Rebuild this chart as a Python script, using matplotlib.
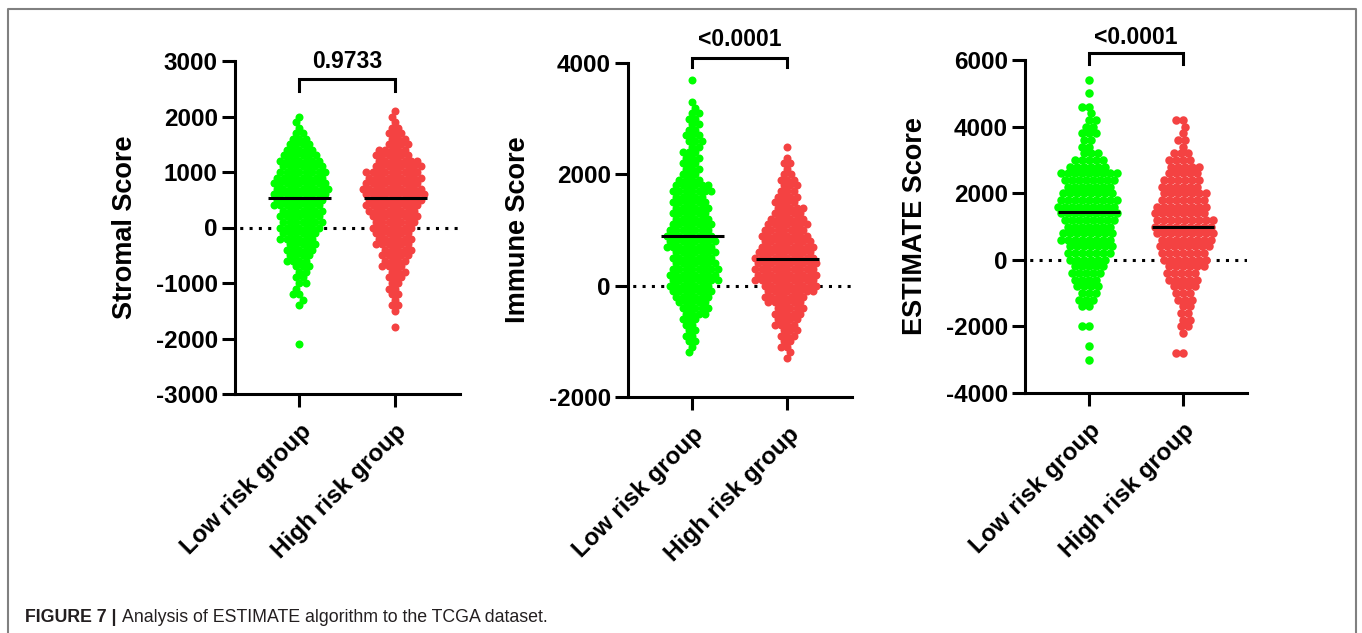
import numpy as np
import matplotlib
matplotlib.use("Agg")
import matplotlib.pyplot as plt
from matplotlib.lines import Line2D
from matplotlib.transforms import blended_transform_factory

plt.rcParams['font.family'] = ['Liberation Sans', 'DejaVu Sans']
plt.rcParams['font.weight'] = 'bold'

# ---------------------------------------------------------------- data
groups = ["Low risk group", "High risk group"]
score_names = ["Stromal Score", "Immune Score", "ESTIMATE Score"]
p_labels = ["0.9733", "<0.0001", "<0.0001"]

# score levels and the number of samples at each level
stromal_levels = np.arange(2100, -2101, -100)
stromal_low = [0, 1, 1, 1, 2, 3, 4, 5, 6, 7, 7, 8, 8, 9, 9, 9, 8, 8, 7, 7, 7, 7,
               6, 6, 5, 5, 4, 4, 3, 2, 2, 2, 1, 2, 1, 1, 0, 0, 0, 0, 0, 0, 1]
stromal_high = [1, 1, 1, 2, 3, 3, 4, 5, 6, 7, 8, 9, 9, 9, 10, 10, 9, 9, 8, 8, 7, 7,
                6, 6, 6, 5, 5, 4, 4, 3, 3, 2, 2, 2, 1, 2, 1, 0, 0, 1, 0, 0, 0]

immune_levels = np.arange(3700, -1301, -100)
immune_low = [1, 0, 0, 0, 1, 1, 2, 2, 2, 2, 3, 3, 2, 3, 3, 3, 3, 3, 4, 6, 7, 5, 6, 6, 6,
              6, 7, 7, 8, 8, 8, 7, 7, 7, 8, 8, 8, 7, 7, 6, 5, 5, 4, 3, 2, 2, 2, 2, 1, 1, 0]
immune_high = [0, 0, 0, 0, 0, 0, 0, 0, 0, 0, 0, 0, 1, 0, 1, 2, 1, 2, 3, 3, 3, 4, 4, 5, 5,
               6, 7, 7, 8, 8, 9, 9, 10, 10, 10, 10, 10, 9, 8, 7, 6, 5, 5, 4, 4, 3, 3, 2, 2, 1, 1]

estimate_levels = np.arange(5400, -3001, -200)
estimate_low = [1, 0, 1, 0, 2, 1, 2, 2, 3, 2,
                2, 3, 5, 6, 9, 8, 7, 8, 9, 9,
                9, 8, 7, 8, 8, 7, 7, 6, 5, 5,
                4, 4, 3, 3, 2, 0, 0, 2, 0, 0,
                1, 0, 1]
estimate_high = [0, 0, 0, 0, 0, 0, 2, 1, 1, 2,
                 1, 3, 4, 5, 5, 6, 6, 7, 7, 8,
                 8, 9, 9, 9, 8, 8, 7, 7, 6, 5,
                 5, 4, 3, 3, 2, 2, 2, 2, 1, 0,
                 0, 2, 0]

medians = [[530, 535], [897, 484], [1450, 1000]]

y_limits = [(-3000, 3000), (-2000, 4000), (-4000, 6000)]
y_ticks = [[-3000, -2000, -1000, 0, 1000, 2000, 3000],
           [-2000, 0, 2000, 4000],
           [-4000, -2000, 0, 2000, 4000, 6000]]

panels = [
    (stromal_levels, stromal_low, stromal_high),
    (immune_levels, immune_low, immune_high),
    (estimate_levels, estimate_low, estimate_high),
]

colors = ["#00FF00", "#F44242"]

# ---------------------------------------------------------------- layout
W, H = 1362, 633
fig = plt.figure(figsize=(W / 100, H / 100), dpi=100)

# axes boxes in pixels: left, top, right, bottom
boxes = [(235, 61, 460, 394), (628, 63, 852, 397), (1025, 60, 1247, 393)]
# bracket: leg bottom, bar, text centre (axes fraction)
brackets = [(0.910, 0.946, 1.0), (0.988, 1.015, 1.069), (0.988, 1.021, 1.069)]
XLIM = (-0.675, 1.68)
DOT_PX = [8.0, 8.0, 8.5]
MIN_DIST = [6.4, 6.4, 7.0]


def swarm_offsets(values, px_per_y, dmin):
    """Horizontal pixel offsets so that dots sit side by side."""
    order = np.argsort(-values, kind="stable")
    ypx = values * px_per_y
    xs = np.zeros(len(values))
    placed_x, placed_y = [], []
    for k, i in enumerate(order):
        y = ypx[i]
        spans = []
        for px, py in zip(placed_x, placed_y):
            dy = abs(py - y)
            if dy < dmin:
                half = np.sqrt(dmin ** 2 - dy ** 2)
                spans.append((px - half, px + half))
        cands = [0.0] + [a for a, b in spans] + [b for a, b in spans]
        side = 1 if k % 2 == 0 else -1
        cands.sort(key=lambda c: (round(abs(c), 6), -side * c))
        for c in cands:
            if all(not (a + 1e-9 < c < b - 1e-9) for a, b in spans):
                xs[i] = c
                break
        placed_x.append(xs[i])
        placed_y.append(y)
    return xs


LW = 2.2
for p, (levels, low, high) in enumerate(panels):
    l, t, r, b = boxes[p]
    ax = fig.add_axes([l / W, (H - b) / H, (r - l) / W, (b - t) / H])
    ax.set_xlim(*XLIM)
    ax.set_ylim(*y_limits[p])
    px_x = (r - l) / (XLIM[1] - XLIM[0])
    px_y = (b - t) / (y_limits[p][1] - y_limits[p][0])

    for g, counts in enumerate([low, high]):
        vals = np.repeat(levels, counts).astype(float)
        off = swarm_offsets(vals, px_y, MIN_DIST[p])
        ax.scatter(g + off / px_x, vals, s=(DOT_PX[p] * 0.72) ** 2, color=colors[g],
                   linewidths=0, zorder=2)
        ax.hlines(medians[p][g], g - 0.33, g + 0.33, color="black", lw=LW, zorder=3)

    ax.axhline(0, color="black", lw=LW, ls=(1.5, (1, 2.05)), zorder=1)

    for side in ("top", "right"):
        ax.spines[side].set_visible(False)
    for side in ("left", "bottom"):
        ax.spines[side].set_linewidth(LW)

    ax.set_yticks(y_ticks[p])
    ax.set_yticklabels([str(v) for v in y_ticks[p]])
    ax.set_xticks([0, 1])
    ax.set_xticklabels(groups, rotation=45, ha="right", va="top",
                       rotation_mode="anchor")
    ax.tick_params(axis="both", width=LW, length=9.5, labelsize=17.5, pad=3)
    ax.tick_params(axis="x", pad=9)

    ax.set_ylabel(score_names[p], fontsize=19.5, fontweight="bold")
    ax.yaxis.set_label_coords(-97 / (r - l), 0.5)

    leg, bar, txt = brackets[p]
    tr = blended_transform_factory(ax.transData, ax.transAxes)
    ax.plot([0, 0, 1, 1], [leg, bar, bar, leg], transform=tr, color="black",
            lw=LW, clip_on=False, solid_joinstyle="miter")
    ax.text(0.5, txt, p_labels[p], transform=tr, ha="center", va="center",
            fontsize=16.5, fontweight="bold", clip_on=False)

# frame around the figure (open at the bottom)
fig.add_artist(Line2D([7.5 / W, 7.5 / W, 1355.5 / W, 1355.5 / W],
                      [0, 624 / H, 624 / H, 0], transform=fig.transFigure,
                      color="#808080", lw=1.5))

# caption
cap_font = ["Liberation Sans", "DejaVu Sans"]
t1 = fig.text(25 / W, 16 / H, "FIGURE 7 |", fontsize=12.8, fontweight="bold",
              family=cap_font, color="#231f20", va="center", ha="left")
fig.canvas.draw()
bb = t1.get_window_extent(fig.canvas.get_renderer())
fig.text((bb.x1 + 5) / W, 16 / H, "Analysis of ESTIMATE algorithm to the TCGA dataset.",
         fontsize=12.8, fontweight="normal", family=cap_font, color="#231f20",
         va="center", ha="left")

fig.savefig("out.png", dpi=100)
